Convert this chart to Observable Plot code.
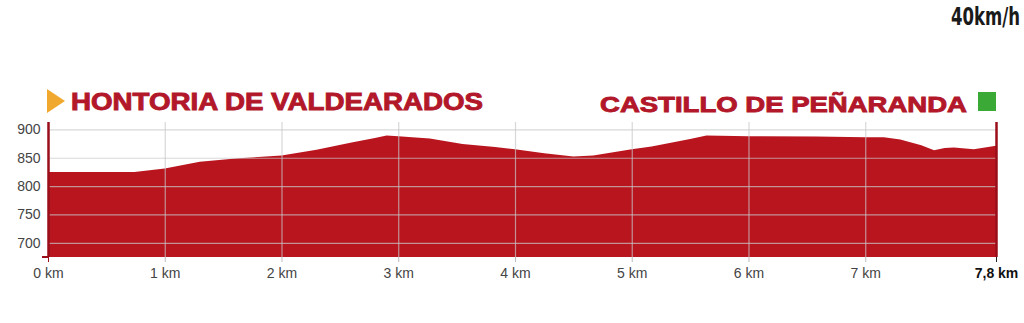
<!DOCTYPE html>
<html>
<head>
<meta charset="utf-8">
<script src="https://cdn.jsdelivr.net/npm/d3@7"></script>
<script src="https://cdn.jsdelivr.net/npm/@observablehq/plot@0.6"></script>
<style>
  html, body { margin: 0; padding: 0; background: #fff; }
  #chart { width: 1024px; height: 323px; overflow: hidden; }
</style>
</head>
<body>
<div id="chart"></div>
<script>
// ---- Data ----
const startName = "HONTORIA DE VALDEARADOS";
const endName = "CASTILLO DE PEÑARANDA";
const speedLabel = "40km/h";

const km   = [0, 0.74, 1.0, 1.3, 1.63, 2.0, 2.3, 2.6, 2.8, 2.9, 3.0, 3.27, 3.55, 3.83, 4.0, 4.25, 4.5, 4.67, 5.0, 5.17, 5.5, 5.64, 6.0, 6.58, 7.0, 7.16, 7.3, 7.48, 7.54, 7.59, 7.68, 7.76, 7.93, 8.12];
const elev = [825, 825, 831, 843, 849, 854, 864, 877, 885, 889, 888, 884, 874, 869, 865, 858, 852, 854, 865, 870, 883, 889, 888, 887.5, 886, 886, 882, 872, 867, 863, 867, 868, 865, 871];

const yTicks = [700, 750, 800, 850, 900];
const xTicks = [0, 1, 2, 3, 4, 5, 6, 7];
const xEnd = 8.12;
const xEndLabel = "7,8 km";
const yMin = 675, yMax = 913;

const data = km.map((k, i) => ({km: k, elev: elev[i]}));

// ---- Colors ----
const fillRed = "#b9151f";
const darkRed = "#9a0e1a";
const titleRed = "#b2172a";
const gridColor = "#c8c8c8";

const chart = Plot.plot({
  width: 1024,
  height: 323,
  marginLeft: 48,
  marginRight: 28,
  marginTop: 122,
  marginBottom: 66,
  style: {fontFamily: "'Liberation Sans', Arial, sans-serif", fontSize: "14px", background: "#fff"},
  x: {domain: [0, xEnd]},
  y: {domain: [yMin, yMax]},
  marks: [
    Plot.areaY(data, {x: "km", y: "elev", fill: fillRed, clip: true}),
    Plot.gridY(yTicks, {stroke: gridColor, strokeOpacity: 0.7, strokeWidth: 1.2}),
    Plot.gridX(xTicks.slice(1), {stroke: gridColor, strokeOpacity: 0.7, strokeWidth: 1.2}),
    Plot.ruleX([0, xEnd], {stroke: darkRed, strokeWidth: 2.5, y1: yMin, y2: yMax}),
    Plot.axisY(yTicks, {tickSize: 0, tickPadding: 8, fill: "#444", fontSize: 14, label: null}),
    Plot.axisX(xTicks.slice(1), {tickSize: 5, stroke: "#bbb", tickPadding: 6, fill: "#444", fontSize: 14,
      tickFormat: d => `${d} km`, label: null}),
    Plot.axisX([0], {tickSize: 5, stroke: darkRed, tickPadding: 6, fill: "#444", fontSize: 14,
      tickFormat: d => `${d} km`, label: null}),
    Plot.axisX([xEnd], {tickSize: 5, stroke: "#222", tickPadding: 6, fill: "#111", fontSize: 14,
      fontWeight: "bold", tickFormat: () => xEndLabel, label: null, textAnchor: "middle"})
  ]
});

document.getElementById("chart").appendChild(chart);

// ---- Titles inside the SVG (kept as text) ----
const svg = d3.select(chart);
const g = svg.append("g").attr("text-anchor", "start");
// small red stub at bottom-left corner
g.append("line").attr("x1", 42).attr("x2", 48).attr("y1", 257).attr("y2", 257)
  .attr("stroke", darkRed).attr("stroke-width", 2);
// start marker: orange triangle
g.append("path").attr("d", "M47,89 L65,101 L47,113 Z").attr("fill", "#f0a92e");
g.append("text").text(startName)
  .attr("x", 71).attr("y", 109.5)
  .attr("textLength", 412).attr("lengthAdjust", "spacingAndGlyphs")
  .attr("font-family", "'Liberation Sans', Arial, sans-serif")
  .attr("font-weight", "900").attr("font-size", 23).attr("fill", titleRed)
  .attr("stroke", titleRed).attr("stroke-width", 0.9);
g.append("text").text(endName)
  .attr("x", 600).attr("y", 111.5)
  .attr("textLength", 367).attr("lengthAdjust", "spacingAndGlyphs")
  .attr("font-family", "'Liberation Sans', Arial, sans-serif")
  .attr("font-weight", "900").attr("font-size", 22).attr("fill", titleRed)
  .attr("stroke", titleRed).attr("stroke-width", 0.9);
// end marker: green square
g.append("rect").attr("x", 978).attr("y", 92).attr("width", 18).attr("height", 19).attr("fill", "#3aa935");
// speed label
g.append("text").text(speedLabel)
  .attr("x", 951).attr("y", 25)
  .attr("textLength", 69).attr("lengthAdjust", "spacingAndGlyphs")
  .attr("font-family", "'DejaVu Sans Condensed', 'Liberation Sans Narrow', sans-serif")
  .attr("font-weight", "bold").attr("font-size", 25).attr("fill", "#1a1a1a");
</script>
</body>
</html>
